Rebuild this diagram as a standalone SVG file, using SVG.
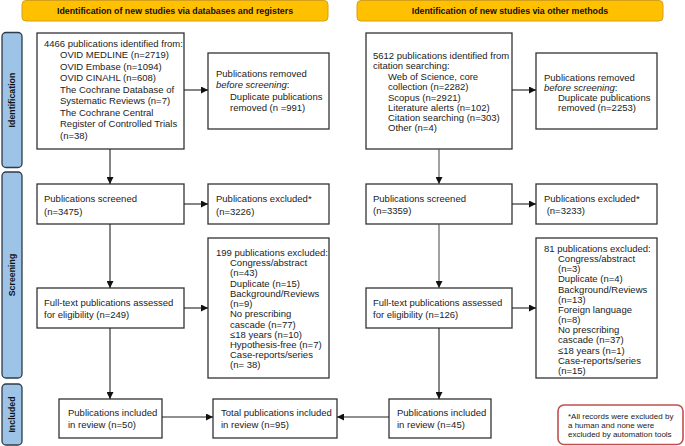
<svg xmlns="http://www.w3.org/2000/svg" width="685" height="446" viewBox="0 0 685 446">
<style>
text{font-family:"Liberation Sans",Arial,sans-serif;font-size:9.5px;fill:#222}
.box{fill:#fff;stroke:#333;stroke-width:1.3}
.hdr{fill:#FFC000;stroke:#D4A017;stroke-width:1}
.hdr-t{font-weight:bold;font-size:8.8px;text-anchor:middle;fill:#111}
.bar{fill:#9DC3E6;stroke:#2E3B4A;stroke-width:1.3}
.bar-t{font-weight:bold;font-size:8.8px;text-anchor:middle;fill:#111}
.con{stroke:#222;stroke-width:1.1;fill:none;marker-end:url(#ah)}
.note{fill:#fff;stroke:#C0504D;stroke-width:1.6}
.nt{font-size:8px}
</style>
<defs>
<marker id="ah" viewBox="0 0 8 8" refX="8" refY="4" markerWidth="7" markerHeight="7" markerUnits="userSpaceOnUse" orient="auto">
<path d="M0,0 L8,4 L0,8 z" fill="#111"/>
</marker>
</defs>
<rect width="685" height="446" fill="#fff"/>

<g id="header-left"><rect class="hdr" x="22" y="0.5" width="306" height="20.5" rx="4"/><text class="hdr-t" x="175" y="14">Identification of new studies via databases and registers</text></g>
<g id="header-right"><rect class="hdr" x="357" y="0.5" width="306" height="20.5" rx="4"/><text class="hdr-t" x="510" y="14">Identification of new studies via other methods</text></g>

<g id="bar-identification"><rect class="bar" x="2" y="32.5" width="20" height="135" rx="4"/><text class="bar-t" transform="translate(15,100) rotate(-90)">Identification</text></g>
<g id="bar-screening"><rect class="bar" x="2" y="172" width="20" height="206" rx="4"/><text class="bar-t" transform="translate(15,275) rotate(-90)">Screening</text></g>
<g id="bar-included"><rect class="bar" x="2" y="384" width="20" height="61" rx="4"/><text class="bar-t" transform="translate(15,414.5) rotate(-90)">Included</text></g>

<g id="identified-db"><rect class="box" x="37" y="33" width="147" height="116"/>
<text x="44" y="46.5">4466 publications identified from:</text>
<text x="60" y="58">OVID MEDLINE (n=2719)</text>
<text x="60" y="69.5">OVID Embase (n=1094)</text>
<text x="60" y="81">OVID CINAHL (n=608)</text>
<text x="60" y="92.5">The Cochrane Database of</text>
<text x="60" y="104">Systematic Reviews (n=7)</text>
<text x="60" y="115.5">The Cochrane Central</text>
<text x="60" y="127">Register of Controlled Trials</text>
<text x="60" y="138.5">(n=38)</text>
</g>
<g id="removed-db"><rect class="box" x="208" y="53" width="121" height="76"/>
<text x="216" y="76.5">Publications removed</text>
<text x="216" y="88" font-style="italic">before screening<tspan font-style="normal">:</tspan></text>
<text x="230" y="99.5">Duplicate publications</text>
<text x="230" y="111">removed (n =991)</text>
</g>
<g id="identified-other"><rect class="box" x="366" y="33" width="146" height="116"/>
<text x="373" y="58.5">5612 publications identified from</text>
<text x="373" y="69">citation searching:</text>
<text x="388" y="79.5">Web of Science, core</text>
<text x="388" y="90">collection (n=2282)</text>
<text x="388" y="100.5">Scopus (n=2921)</text>
<text x="388" y="111">Literature alerts (n=102)</text>
<text x="388" y="121">Citation searching (n=303)</text>
<text x="388" y="131">Other (n=4)</text>
</g>
<g id="removed-other"><rect class="box" x="536" y="53" width="121" height="76"/>
<text x="544" y="80.5">Publications removed</text>
<text x="544" y="90.5" font-style="italic">before screening<tspan font-style="normal">:</tspan></text>
<text x="558" y="100.5">Duplicate publications</text>
<text x="558" y="111">removed (n=2253)</text>
</g>

<g id="screened-db"><rect class="box" x="37" y="184" width="147" height="40"/>
<text x="44" y="201.5">Publications screened</text>
<text x="44" y="214.5">(n=3475)</text>
</g>
<g id="excluded-db"><rect class="box" x="208" y="184" width="121" height="40"/>
<text x="216" y="201.5">Publications excluded*</text>
<text x="216" y="214.5">(n=3226)</text>
</g>
<g id="screened-other"><rect class="box" x="366" y="184" width="146" height="40"/>
<text x="373" y="201.5">Publications screened</text>
<text x="373" y="214">(n=3359)</text>
</g>
<g id="excluded-other"><rect class="box" x="536" y="184" width="121" height="40"/>
<text x="544" y="201.5">Publications excluded*</text>
<text x="544" y="214" xml:space="preserve"> (n=3233)</text>
</g>

<g id="fulltext-db"><rect class="box" x="37" y="288" width="147" height="40"/>
<text x="44" y="305.5">Full-text publications assessed</text>
<text x="44" y="317.5">for eligibility (n=249)</text>
</g>
<g id="excluded-ft-db"><rect class="box" x="208" y="238" width="121" height="140"/>
<text x="216" y="255.5">199 publications excluded:</text>
<text x="230" y="266">Congress/abstract</text>
<text x="230" y="276">(n=43)</text>
<text x="230" y="286.5">Duplicate (n=15)</text>
<text x="230" y="296.5">Background/Reviews</text>
<text x="230" y="307">(n=9)</text>
<text x="230" y="317">No prescribing</text>
<text x="230" y="327.5">cascade (n=77)</text>
<text x="230" y="337.5">≤18 years (n=10)</text>
<text x="230" y="348">Hypothesis-free (n=7)</text>
<text x="230" y="358">Case-reports/series</text>
<text x="230" y="368">(n= 38)</text>
</g>
<g id="fulltext-other"><rect class="box" x="366" y="288" width="146" height="40"/>
<text x="373" y="305.5">Full-text publications assessed</text>
<text x="373" y="317.5">for eligibility (n=126)</text>
</g>
<g id="excluded-ft-other"><rect class="box" x="536" y="238" width="121" height="140"/>
<text x="544" y="251.5">81 publications excluded:</text>
<text x="558" y="262">Congress/abstract</text>
<text x="558" y="272">(n=3)</text>
<text x="558" y="282">Duplicate (n=4)</text>
<text x="558" y="292.5">Background/Reviews</text>
<text x="558" y="302.5">(n=13)</text>
<text x="558" y="312.5">Foreign language</text>
<text x="558" y="322.5">(n=8)</text>
<text x="558" y="332.5">No prescribing</text>
<text x="558" y="343">cascade (n=37)</text>
<text x="558" y="353.5">≤18 years (n=1)</text>
<text x="558" y="364">Case-reports/series</text>
<text x="558" y="374">(n=15)</text>
</g>

<g id="included-db"><rect class="box" x="59" y="399" width="103" height="39"/>
<text x="68" y="415.5">Publications included</text>
<text x="68" y="427.5">in review (n=50)</text>
</g>
<g id="included-total"><rect class="box" x="213" y="399" width="124" height="39"/>
<text x="221" y="415.5">Total publications included</text>
<text x="221" y="427.5">in review (n=95)</text>
</g>
<g id="included-other"><rect class="box" x="389" y="399" width="102" height="39"/>
<text x="397" y="415.5">Publications included</text>
<text x="397" y="427.5">in review (n=45)</text>
</g>

<g id="note"><rect class="note" x="558" y="405" width="125" height="39.5" rx="6"/>
<text class="nt" x="568" y="418.5">*All records were excluded by</text>
<text class="nt" x="568" y="427.5">a human and none were</text>
<text class="nt" x="568" y="436.5">excluded by automation tools</text>
</g>

<g id="connectors">
<path class="con" d="M184,90 H208"/>
<path class="con" d="M110,149 V184"/>
<path class="con" d="M184,204 H208"/>
<path class="con" d="M110,224 V288"/>
<path class="con" d="M184,308 H208"/>
<path class="con" d="M110,328 V399"/>
<path class="con" d="M162,417 H213"/>
<path class="con" d="M512,90 H536"/>
<path class="con" d="M439,149 V184" style="stroke:#555"/>
<path class="con" d="M512,204 H536"/>
<path class="con" d="M439,224 V288" style="stroke:#555"/>
<path class="con" d="M512,308 H536"/>
<path class="con" d="M439,328 V399"/>
<path class="con" d="M389,417 H337"/>
</g>
</svg>
